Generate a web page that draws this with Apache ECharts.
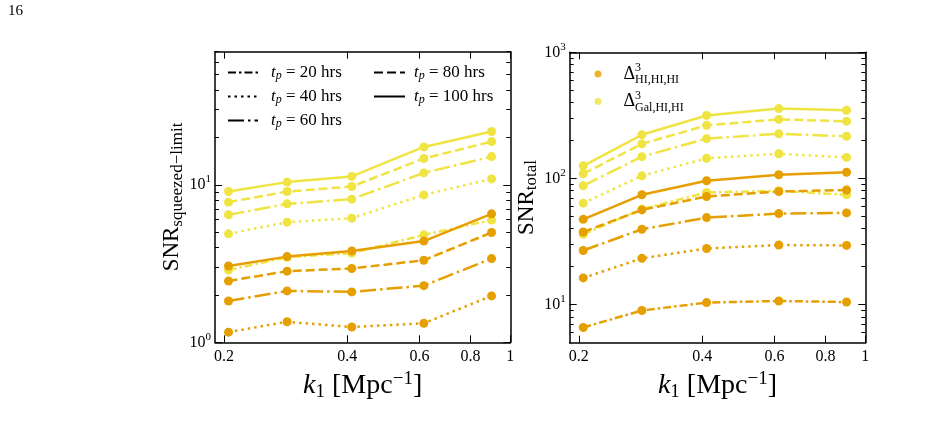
<!DOCTYPE html>
<html>
<head>
<meta charset="utf-8">
<script src="https://cdn.jsdelivr.net/npm/echarts@6.0.0/dist/echarts.min.js"></script>
<style>
html, body { margin: 0; padding: 0; background: #fff; }
#main { width: 932px; height: 421px; }
</style>
</head>
<body>
<div id="main"></div>
<script>
// k1 positions (Mpc^-1)
var kValues = [0.205, 0.285, 0.41, 0.615, 0.9];
var xTicks = [0.2, 0.4, 0.6, 0.8, 1];

// left panel: SNR squeezed-limit
var sqHI40 = [1.16, 1.35, 1.25, 1.32, 1.97];
var sqHI60 = [1.83, 2.12, 2.09, 2.29, 3.40];
var sqHI80 = [2.45, 2.83, 2.94, 3.32, 4.98];
var sqHI100 = [3.05, 3.50, 3.80, 4.39, 6.54];
var sqGal20 = [2.88, 3.47, 3.68, 4.81, 5.97];
var sqGal40 = [4.88, 5.79, 6.14, 8.63, 10.9];
var sqGal60 = [6.45, 7.57, 8.11, 11.9, 15.1];
var sqGal80 = [7.76, 9.06, 9.75, 14.7, 18.8];
var sqGal100 = [9.06, 10.4, 11.3, 17.4, 21.8];

// right panel: SNR total
var totHI20 = [6.6, 9.0, 10.4, 10.7, 10.5];
var totHI40 = [16.3, 23.3, 27.9, 29.7, 29.5];
var totHI60 = [26.9, 39.6, 49.0, 52.7, 53.4];
var totHI80 = [37.7, 56.4, 72.0, 78.9, 81.0];
var totHI100 = [47.5, 74.3, 96.0, 107, 112];
var totGal20 = [36.1, 57.2, 77.5, 80.0, 74.3];
var totGal40 = [63.8, 105, 144.5, 157, 147];
var totGal60 = [87.7, 149, 207, 226, 216];
var totGal80 = [109, 188, 264, 294, 284];
var totGal100 = [126, 222, 316, 358, 347];

var leftMajor = [1, 10];
var leftMinor = [2, 3, 4, 5, 6, 7, 8, 9, 20, 30, 40, 50, 60, 70];
var rightMajor = [10, 100, 1000];
var rightMinor = [6, 7, 8, 9, 20, 30, 40, 50, 60, 70, 80, 90, 200, 300, 400, 500, 600, 700, 800, 900];

var orange = '#E69F00';
var yellow = '#F0E442';
var font = '"Liberation Serif", "DejaVu Serif", serif';
var dashes = {
    20: [8, 3, 2.5, 3],
    40: [2.5, 4],
    60: [16, 4, 2.5, 4],
    80: [9, 4],
    100: 'solid'
};

var myChart = echarts.init(document.getElementById('main'));

function pts(vals) {
    return kValues.map(function (k, i) { return [k, vals[i]]; });
}

function curve(g, vals, color, h) {
    return {
        type: 'line',
        xAxisIndex: g * 2,
        yAxisIndex: g * 4,
        data: pts(vals),
        symbol: 'circle',
        symbolSize: 9,
        itemStyle: { color: color },
        lineStyle: { color: color, width: 2.5, type: dashes[h] },
        animation: false,
        silent: true
    };
}

var supRich = {
    n: { fontFamily: font, fontSize: 16, lineHeight: 22, color: '#000' },
    sup: { fontFamily: font, fontSize: 11, lineHeight: 11, verticalAlign: 'top', color: '#000' }
};

function powLabel(v) {
    return '{n|10}{sup|' + Math.round(Math.log10(v)) + '}';
}

function xAxes(g) {
    var line = { show: true, onZero: false, lineStyle: { color: '#000', width: 1.5 } };
    return [{
        gridIndex: g, type: 'log', min: 0.19, max: 1, position: 'bottom',
        axisLine: line,
        axisTick: { inside: true, length: 7, customValues: xTicks, lineStyle: { color: '#000', width: 1 } },
        axisLabel: {
            customValues: xTicks, margin: 6, color: '#000', fontFamily: font, fontSize: 16,
            formatter: function (v) { return String(+v.toFixed(1)); }
        },
        splitLine: { show: false },
        name: '{i|k}{s|1}{n| [Mpc}{p|\u22121}{n|]}',
        nameLocation: 'middle', nameGap: 20,
        nameTextStyle: {
            rich: {
                i: { fontFamily: font, fontStyle: 'italic', fontSize: 28, lineHeight: 32, color: '#000' },
                n: { fontFamily: font, fontSize: 28, lineHeight: 32, color: '#000' },
                s: { fontFamily: font, fontSize: 19, lineHeight: 19, verticalAlign: 'bottom', color: '#000' },
                p: { fontFamily: font, fontSize: 19, lineHeight: 19, verticalAlign: 'top', color: '#000' }
            }
        }
    }, {
        gridIndex: g, type: 'log', min: 0.19, max: 1, position: 'top',
        axisLine: line,
        axisTick: { inside: true, length: 7, customValues: xTicks, lineStyle: { color: '#000', width: 1 } },
        axisLabel: { show: false },
        splitLine: { show: false }
    }];
}

function yAxes(g, min, max, major, minor, name) {
    var line = { show: true, onZero: false, lineStyle: { color: '#000', width: 1.5 } };
    var tick = { color: '#000', width: 1 };
    return [{
        gridIndex: g, type: 'log', min: min, max: max, position: 'left',
        axisLine: line,
        axisTick: { inside: true, length: 7, customValues: major, lineStyle: tick },
        axisLabel: { customValues: major, margin: 4, formatter: powLabel, rich: supRich },
        splitLine: { show: false },
        name: name, nameLocation: 'middle', nameRotate: 90, nameGap: 29,
        nameTextStyle: {
            rich: {
                n: { fontFamily: font, fontSize: 23, lineHeight: 27, color: '#000' },
                s: { fontFamily: font, fontSize: 17, lineHeight: 17, verticalAlign: 'bottom', color: '#000' }
            }
        }
    }, {
        gridIndex: g, type: 'log', min: min, max: max, position: 'left',
        axisLine: { show: false },
        axisTick: { inside: true, length: 4, customValues: minor, lineStyle: tick },
        axisLabel: { show: false }, splitLine: { show: false }
    }, {
        gridIndex: g, type: 'log', min: min, max: max, position: 'right',
        axisLine: line,
        axisTick: { inside: true, length: 7, customValues: major, lineStyle: tick },
        axisLabel: { show: false }, splitLine: { show: false }
    }, {
        gridIndex: g, type: 'log', min: min, max: max, position: 'right',
        axisLine: { show: false },
        axisTick: { inside: true, length: 4, customValues: minor, lineStyle: tick },
        axisLabel: { show: false }, splitLine: { show: false }
    }];
}

var series = [
    // legend-only entries
    { type: 'line', name: '20', data: [], symbol: 'none', color: '#000', lineStyle: { color: '#000', width: 2.5, type: dashes[20] } },
    { type: 'line', name: '40', data: [], symbol: 'none', color: '#000', lineStyle: { color: '#000', width: 2.5, type: dashes[40] } },
    { type: 'line', name: '60', data: [], symbol: 'none', color: '#000', lineStyle: { color: '#000', width: 2.5, type: dashes[60] } },
    { type: 'line', name: '80', data: [], symbol: 'none', color: '#000', lineStyle: { color: '#000', width: 2.5, type: dashes[80] } },
    { type: 'line', name: '100', data: [], symbol: 'none', color: '#000', lineStyle: { color: '#000', width: 2.5, type: 'solid' } },
    { type: 'scatter', name: 'HI,HI,HI', data: [], color: orange, xAxisIndex: 2, yAxisIndex: 4 },
    { type: 'scatter', name: 'Gal,HI,HI', data: [], color: yellow, xAxisIndex: 2, yAxisIndex: 4 },

    curve(0, sqGal20, yellow, 20),
    curve(0, sqGal40, yellow, 40),
    curve(0, sqGal60, yellow, 60),
    curve(0, sqGal80, yellow, 80),
    curve(0, sqGal100, yellow, 100),
    curve(0, sqHI40, orange, 40),
    curve(0, sqHI60, orange, 60),
    curve(0, sqHI80, orange, 80),
    curve(0, sqHI100, orange, 100),

    curve(1, totGal20, yellow, 20),
    curve(1, totGal40, yellow, 40),
    curve(1, totGal60, yellow, 60),
    curve(1, totGal80, yellow, 80),
    curve(1, totGal100, yellow, 100),
    curve(1, totHI20, orange, 20),
    curve(1, totHI40, orange, 40),
    curve(1, totHI60, orange, 60),
    curve(1, totHI80, orange, 80),
    curve(1, totHI100, orange, 100)
];

var tpRich = {
    i: { fontFamily: font, fontStyle: 'italic', fontSize: 17, lineHeight: 18, color: '#000' },
    s: { fontFamily: font, fontStyle: 'italic', fontSize: 12, lineHeight: 11, verticalAlign: 'bottom', color: '#000' },
    n: { fontFamily: font, fontSize: 17, lineHeight: 18, color: '#000' }
};
function tpLabel(name) {
    return '{i|t}{s|p}{n| = ' + name + ' hrs}';
}

option = {
    backgroundColor: '#fff',
    animation: false,
    grid: [
        { left: 215, top: 51.7, width: 295.3, height: 290.6 },
        { left: 569.7, top: 52.3, width: 295.6, height: 290.4 }
    ],
    xAxis: xAxes(0).concat(xAxes(1)),
    yAxis: yAxes(0, 1, 70, leftMajor, leftMinor, '{n|SNR}{s|squeezed\u2212limit}')
        .concat(yAxes(1, 5, 1000, rightMajor, rightMinor, '{n|SNR}{s|total}')),
    legend: [{
        data: ['20', '40', '60'], orient: 'vertical', left: 227, top: 64,
        itemWidth: 30, itemHeight: 14, itemGap: 6.5, padding: 0,
        selectedMode: false, formatter: tpLabel,
        itemStyle: { opacity: 0 },
        textStyle: { padding: [0, 0, 0, 8], rich: tpRich }
    }, {
        data: ['80', '100'], orient: 'vertical', left: 373, top: 64,
        itemWidth: 31, itemHeight: 14, itemGap: 6.5, padding: 0,
        selectedMode: false, formatter: tpLabel,
        itemStyle: { opacity: 0 },
        textStyle: { padding: [0, 0, 0, 4], rich: tpRich }
    }, {
        data: [{ name: 'HI,HI,HI', icon: 'circle' }, { name: 'Gal,HI,HI', icon: 'circle' }],
        orient: 'vertical', left: 594.5, top: 62,
        itemWidth: 7, itemHeight: 7, itemGap: 3.5, padding: 0,
        selectedMode: false,
        formatter: function (name) { return '{d|\u0394}{p|3}{s|' + name + '}'; },
        textStyle: {
            padding: [0, 0, 0, 17],
            rich: {
                d: { fontFamily: font, fontSize: 18, lineHeight: 24, color: '#000' },
                p: { fontFamily: font, fontSize: 12, lineHeight: 11, width: 0, verticalAlign: 'top', color: '#000' },
                s: { fontFamily: font, fontSize: 12, lineHeight: 11, verticalAlign: 'bottom', color: '#000' }
            }
        }
    }],
    graphic: [{
        type: 'text', left: 8, top: 4,
        style: { text: '16', fontFamily: font, fontSize: 15, fill: '#000' }
    }],
    series: series
};

myChart.setOption(option);
</script>
</body>
</html>
